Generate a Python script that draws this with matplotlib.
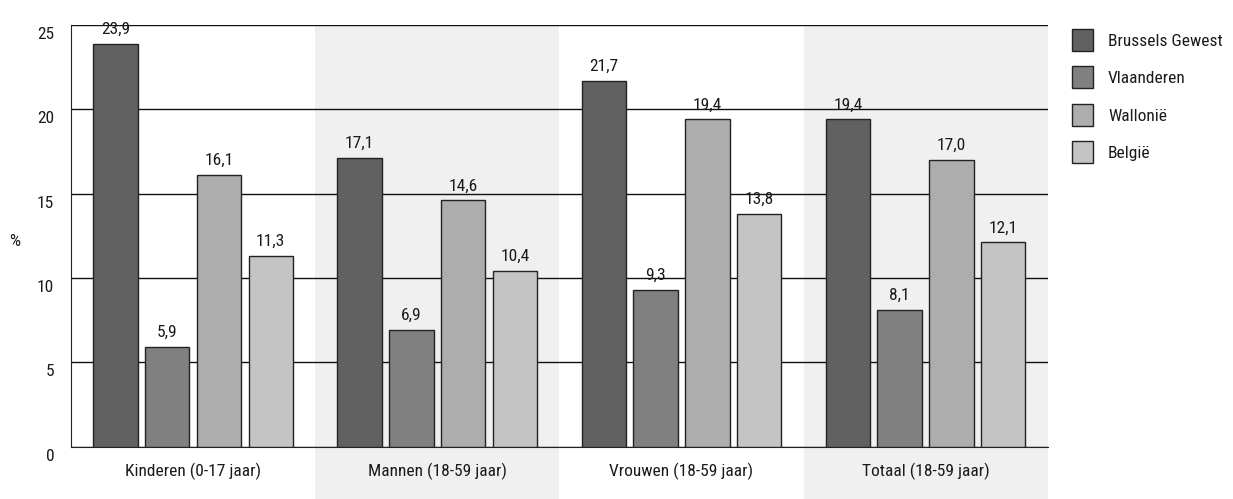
import matplotlib
matplotlib.use("Agg")
import matplotlib.pyplot as plt
import matplotlib.transforms as mtransforms
from matplotlib.patches import Rectangle, Patch
from matplotlib import font_manager
import numpy as np

names = {f.name for f in font_manager.fontManager.ttflist}
fam = [f for f in ["Roboto Condensed", "Liberation Sans Narrow", "DejaVu Sans Condensed", "Liberation Sans"] if f in names] + ["DejaVu Sans"]
plt.rcParams['font.family'] = fam

categories = ["Kinderen (0-17 jaar)", "Mannen (18-59 jaar)", "Vrouwen (18-59 jaar)", "Totaal (18-59 jaar)"]
series_names = ["Brussels Gewest", "Vlaanderen", "Wallonië", "België"]
brussels = [23.9, 17.1, 21.7, 19.4]
vlaanderen = [5.9, 6.9, 9.3, 8.1]
wallonie = [16.1, 14.6, 19.4, 17.0]
belgie = [11.3, 10.4, 13.8, 12.1]
yticks = [0, 5, 10, 15, 20, 25]

series = [brussels, vlaanderen, wallonie, belgie]
colors = ["#616161", "#808080", "#adadad", "#c4c4c4"]
edge = "#222222"
txt = "#1a1a1a"
FS = 12.5

fig = plt.figure(figsize=(12.33, 4.99), dpi=100)
ax = fig.add_axes([0.0576, 0.1052, 0.8497 - 0.0576, 0.9499 - 0.1052])

x = np.arange(len(categories))
step = 0.212
width = 0.182
offsets = (np.arange(len(series)) - 1.5) * step

# shaded bands for alternate groups, extending below axis
trans = mtransforms.blended_transform_factory(ax.transData, ax.transAxes)
for i in range(len(categories)):
    if i % 2 == 1:
        ax.add_patch(Rectangle((i - 0.5, -0.125), 1.0, 1.125, transform=trans,
                               facecolor="#f0f0f0", edgecolor="none", clip_on=False, zorder=0))

for s, vals in enumerate(series):
    ax.bar(x + offsets[s], vals, width=width, color=colors[s], edgecolor=edge,
           linewidth=1.0, zorder=3, label=series_names[s])
    for xi, v in zip(x + offsets[s], vals):
        ax.annotate(f"{v:.1f}".replace(".", ","), (xi, v), xytext=(0, 5), textcoords="offset points",
                    ha="center", va="bottom", fontsize=FS, color=txt, zorder=4)

ax.set_xlim(-0.5, 3.5)
ax.set_ylim(0, 25)
ax.set_yticks(yticks)
ax.set_yticklabels([str(t) for t in yticks], fontsize=FS, color=txt)
ax.set_xticks(x)
ax.set_xticklabels(categories, fontsize=FS, color=txt)
ax.tick_params(axis="both", length=0)
ax.tick_params(axis="y", pad=12)
ax.tick_params(axis="x", pad=12)
ax.yaxis.grid(True, color="#111111", linewidth=1.0, zorder=1)
ax.set_axisbelow(True)
for sp in ["top", "right"]:
    ax.spines[sp].set_visible(False)
ax.spines["left"].set_color("#222222")
ax.spines["bottom"].set_color("#222222")
ax.patch.set_alpha(0)

shift = mtransforms.ScaledTranslation(0, -8 / 100, fig.dpi_scale_trans)
for lab in ax.get_yticklabels():
    lab.set_transform(lab.get_transform() + shift)

fig.text(15 / 1233, 1 - 242 / 499, "%", fontsize=FS, color=txt, ha="center", va="center")

handles = [Patch(facecolor=c, edgecolor=edge, linewidth=1.0) for c in colors]
fig.legend(handles, series_names, loc="upper left", bbox_to_anchor=(1072 / 1233, 1 - 29 / 499),
           frameon=False, fontsize=FS, handlelength=1.21, handleheight=1.573,
           handletextpad=0.86, labelspacing=0.89, borderpad=0, borderaxespad=0,
           labelcolor=txt)

fig.savefig("out.png", dpi=100)
